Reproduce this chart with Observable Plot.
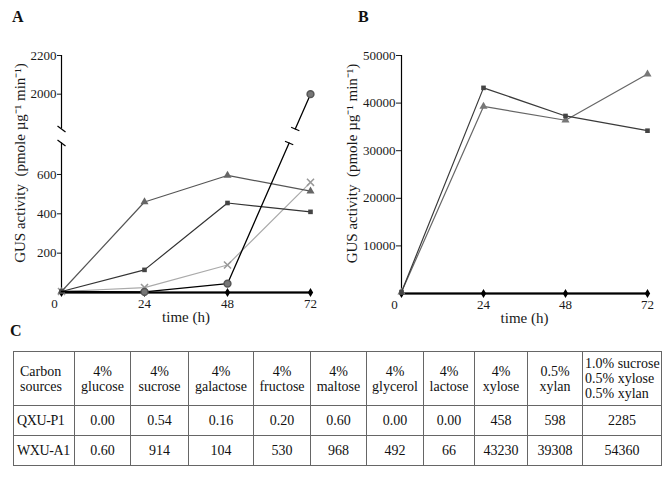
<!DOCTYPE html>
<html><head><meta charset="utf-8">
<script src="https://cdn.jsdelivr.net/npm/d3@7"></script>
<script src="https://cdn.jsdelivr.net/npm/@observablehq/plot@0.6"></script>
<style>
body{margin:0;background:#fff;}
#wrap{position:relative;width:672px;height:478px;font-family:"Liberation Serif","Times New Roman",serif;color:#111;overflow:hidden;background:#fff;}
.panel{position:absolute;top:0;}
.tag{position:absolute;font-weight:bold;font-size:16px;line-height:1;}
table{position:absolute;left:13px;top:351px;border-collapse:collapse;font-size:14px;table-layout:fixed;width:648px;}
td{border:1px solid #666;text-align:center;vertical-align:middle;padding:0;line-height:15px;white-space:pre;overflow:visible;}
</style></head>
<body><div id="wrap"></div>
<script>
// ---------- data ----------
const hours = [0, 24, 48, 72];
const xTicks = [24, 48, 72];
const xZero = [0];
// Panel A
const aTriangle = [5, 460, 595, 515];
const aSquare = [5, 115, 455, 410];
const aCross = [5, 25, 140, 560];
const aCircle = [5, 3, 45, 2000];
const aDiamond = [0, 0, 0, 0];
const aYTicks = [200, 400, 600, 2000, 2200];
const aBreak = [760, 1820];
const aYMax = 2200;
// Panel B
const bSquare = [300, 43200, 37300, 34200];
const bTriangle = [300, 39300, 36400, 46100];
const bDiamond = [0, 0, 0, 0];
const bYTicks = [10000, 20000, 30000, 40000, 50000];
const bYMax = 50000;
// Labels
const yLabel = "GUS activity  (pmole µg⁻¹ min⁻¹)";
const xLabel = "time (h)";
// Table C
const tableHead = ["Carbon\nsources", "4%\nglucose", "4%\nsucrose", "4%\ngalactose", "4%\nfructose", "4%\nmaltose", "4%\nglycerol", "4%\nlactose", "4%\nxylose", "0.5%\nxylan", "1.0% sucrose\n0.5% xylose\n0.5% xylan"];
const rowLabels = ["QXU-P1", "WXU-A1"];
const qxuP1 = ["0.00", "0.54", "0.16", "0.20", "0.60", "0.00", "0.00", "458", "598", "2285"];
const wxuA1 = ["0.60", "914", "104", "530", "968", "492", "66", "43230", "39308", "54360"];

// ---------- helpers ----------
const pts = vals => hours.map((h, i) => ({h, v: vals[i]}));
const wrap = document.getElementById("wrap");
const baseStyle = {fontFamily: "'Liberation Serif', 'Times New Roman', serif", fontSize: "13px", color: "#1a1a1a", background: "transparent", overflow: "visible"};

function seriesMarks(vals, {stroke, fill, symbol, r = 3, width = 1.2, dotStroke}) {
  return [
    Plot.line(pts(vals), {x: "h", y: "v", stroke, strokeWidth: width}),
    Plot.dot(pts(vals), {x: "h", y: "v", symbol, r, fill, stroke: dotStroke})
  ];
}
function labelMarks(dx) {
  return [
    Plot.text([yLabel], {text: d => d, frameAnchor: "left", textAnchor: "middle", rotate: -90, dx, dy: -11, fontSize: 15}),
    Plot.text([xLabel], {text: d => d, frameAnchor: "bottom", textAnchor: "middle", dy: 29, fontSize: 15})
  ];
}

// ---------- Panel A ----------
const xAopts = {domain: [0, 72], range: [61, 310]};
const yAopts = {type: "linear", domain: [0, aBreak[0], aBreak[1], aYMax], range: [292, 142.5, 128.5, 55]};
const xsA = Plot.scale({x: xAopts});
const ysA = Plot.scale({y: yAopts});
const fy = v => ysA.apply(v);
const cIdx0 = 2, cIdx1 = 3;
const cross = v => hours[cIdx0] + (hours[cIdx1] - hours[cIdx0]) * (fy(aCircle[cIdx0]) - fy(v)) / (fy(aCircle[cIdx0]) - fy(aCircle[cIdx1]));
const circleLow = [...pts(aCircle).slice(0, cIdx1), {h: cross(aBreak[0]), v: aBreak[0]}];
const circleHigh = [{h: cross(aBreak[1]), v: aBreak[1]}, pts(aCircle)[cIdx1]];
const dxp = xsA.apply(hours[cIdx1]) - xsA.apply(hours[cIdx0]);
const dyp = fy(aCircle[cIdx1]) - fy(aCircle[cIdx0]);
const len = Math.hypot(dxp, dyp);
const ux = -dyp / len, uy = dxp / len;
const perpTick = {draw(ctx) { ctx.moveTo(-ux * 4.5, -uy * 4.5); ctx.lineTo(ux * 4.5, uy * 4.5); }};
const slash = {draw(ctx) { ctx.moveTo(-4, -3); ctx.lineTo(4, 3); }};

const plotA = Plot.plot({
  width: 340, height: 332,
  marginLeft: 61, marginRight: 30, marginTop: 55, marginBottom: 40,
  x: xAopts,
  y: yAopts,
  style: baseStyle,
  marks: [
    Plot.ruleX([0], {y1: 0, y2: aBreak[0], stroke: "black", strokeWidth: 1.2}),
    Plot.ruleX([0], {y1: aBreak[1], y2: aYMax, stroke: "black", strokeWidth: 1.2}),
    Plot.dot(aBreak, {x: 0, y: d => d, symbol: slash, fill: "none", stroke: "black", strokeWidth: 1.2}),
    Plot.ruleY([0], {stroke: "black", strokeWidth: 1.6}),
    ...seriesMarks(aDiamond, {stroke: "black", fill: "black", symbol: "diamond", width: 2, r: 2.8}),
    ...seriesMarks(aCross, {stroke: "#aaa", fill: "none", dotStroke: "#999", symbol: "times", r: 3.3}),
    ...seriesMarks(aTriangle, {stroke: "#555", fill: "#666", symbol: "triangle", r: 3}),
    ...seriesMarks(aSquare, {stroke: "#333", fill: "#444", symbol: "square", r: 2.6}),
    Plot.line(circleLow, {x: "h", y: "v", stroke: "black", strokeWidth: 1.3}),
    Plot.line(circleHigh, {x: "h", y: "v", stroke: "black", strokeWidth: 1.3}),
    Plot.dot([circleLow[circleLow.length - 1], circleHigh[0]], {x: "h", y: "v", symbol: perpTick, fill: "none", stroke: "black", strokeWidth: 1.2}),
    Plot.dot(pts(aCircle).slice(1), {x: "h", y: "v", symbol: "circle", r: 3.4, fill: "#777", stroke: "#555"}),
    Plot.axisX({ticks: xTicks, tickSize: 0, tickPadding: 6, label: null}),
    Plot.axisX({ticks: xZero, tickSize: 0, tickPadding: 6, dx: -7, label: null}),
    Plot.axisY({ticks: aYTicks, tickSize: 4, tickPadding: 1, label: null, tickFormat: d => String(d)}),
    ...labelMarks(-41)
  ]
});

// ---------- Panel B ----------
const plotB = Plot.plot({
  width: 332, height: 332,
  marginLeft: 61, marginRight: 25, marginTop: 55, marginBottom: 39,
  x: {domain: [0, 72]},
  y: {domain: [0, bYMax]},
  style: baseStyle,
  marks: [
    Plot.ruleX([0], {stroke: "black", strokeWidth: 1.2}),
    Plot.ruleY([0], {stroke: "black", strokeWidth: 1.6}),
    ...seriesMarks(bDiamond, {stroke: "black", fill: "black", symbol: "diamond", width: 2, r: 2.8}),
    ...seriesMarks(bTriangle, {stroke: "#666", fill: "#777", symbol: "triangle", r: 3}),
    ...seriesMarks(bSquare, {stroke: "#3a3a3a", fill: "#444", symbol: "square", r: 2.6}),
    Plot.axisX({ticks: xTicks, tickSize: 0, tickPadding: 6, label: null}),
    Plot.axisX({ticks: xZero, tickSize: 0, tickPadding: 6, dx: -7, label: null}),
    Plot.axisY({ticks: bYTicks, tickSize: 5, tickPadding: 1, label: null, tickFormat: d => String(d)}),
    ...labelMarks(-49)
  ]
});

const divA = document.createElement("div"); divA.className = "panel"; divA.style.left = "0px"; divA.appendChild(plotA); wrap.appendChild(divA);
const divB = document.createElement("div"); divB.className = "panel"; divB.style.left = "340px"; divB.appendChild(plotB); wrap.appendChild(divB);

// panel tags
[["A", 12, 9], ["B", 358, 9], ["C", 10, 323]].forEach(([t, l, tp]) => {
  const d = document.createElement("div"); d.className = "tag"; d.textContent = t;
  d.style.left = l + "px"; d.style.top = tp + "px"; wrap.appendChild(d);
});

// ---------- Table C ----------
const colW = [61, 56, 58, 65, 57, 56, 57, 51, 53, 55, 79];
const table = d3.create("table");
table.append("colgroup").selectAll("col").data(colW).join("col").style("width", d => d + "px");
const tb = table.append("tbody");
const hr = tb.append("tr").style("height", "54px");
hr.selectAll("td").data(tableHead).join("td").text(d => d)
  .style("text-align", (d, i) => (i === 0 || i === tableHead.length - 1) ? "left" : "center")
  .style("padding-left", (d, i) => i === 0 ? "6px" : i === tableHead.length - 1 ? "2px" : "0px");
[[rowLabels[0], qxuP1], [rowLabels[1], wxuA1]].forEach(([lab, vals]) => {
  const tr = tb.append("tr").style("height", "30px");
  tr.selectAll("td").data([lab, ...vals]).join("td").text(d => d)
    .style("text-align", (d, i) => i === 0 ? "left" : "center")
    .style("padding-left", (d, i) => i === 0 ? "3px" : "0px")
    .style("letter-spacing", (d, i) => i === 0 ? "-0.4px" : "normal");
});
wrap.appendChild(table.node());
</script>
</body></html>
